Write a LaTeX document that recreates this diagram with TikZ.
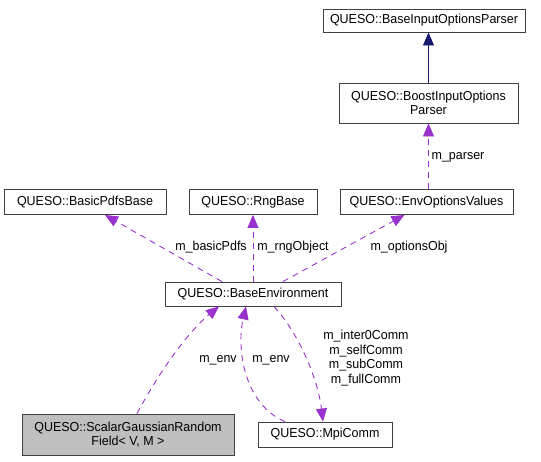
\documentclass[tikz,border=0pt]{standalone}
\usepackage{fontspec}
\setmainfont[FakeStretch=0.96]{Liberation Sans}
\usetikzlibrary{arrows.meta,calc}
\definecolor{edgepurple}{HTML}{9A32CD}
\definecolor{edgenavy}{HTML}{191970}
\definecolor{boxline}{HTML}{404040}
\definecolor{boxgray}{HTML}{BFBFBF}
\begin{document}
\begin{tikzpicture}[x=1pt,y=-1pt,
  font=\fontsize{13}{14.7}\selectfont,
  cls/.style={draw=boxline, line width=0.9pt, fill=white, inner sep=0pt, align=center},
  graycls/.style={cls, fill=boxgray},
  usage/.style={draw=edgepurple, line width=0.9pt, dash pattern=on 6pt off 5pt,
     -{Triangle[length=13pt,width=11pt,fill=edgepurple]}},
  inherit/.style={draw=edgenavy, line width=0.9pt,
     -{Triangle[length=13pt,width=11pt,fill=edgenavy]}},
  lbl/.style={inner sep=0pt, align=center}]
\useasboundingbox (0,0) rectangle (541,461);

\node[cls, minimum width=202pt, minimum height=23pt] (bip) at (424,20.5) {QUESO::BaseInputOptionsParser};
\node[cls, minimum width=179pt, minimum height=40pt] (boost) at (428.5,103) {QUESO::BoostInputOptions\\Parser};
\node[cls, minimum width=173pt, minimum height=25pt] (eov) at (426.5,202) {QUESO::EnvOptionsValues};
\node[cls, minimum width=162pt, minimum height=25pt] (bp) at (85,202) {QUESO::BasicPdfsBase};
\node[cls, minimum width=128pt, minimum height=25pt] (rng) at (253,202) {QUESO::RngBase};
\node[cls, minimum width=176pt, minimum height=24pt] (be) at (253,294) {QUESO::BaseEnvironment};
\node[graycls, minimum width=212pt, minimum height=41pt] (sg) at (128,434.5) {QUESO::ScalarGaussianRandom\\Field\textless{} V, M \textgreater{}};
\node[cls, minimum width=134pt, minimum height=25pt] (mpi) at (325,434.5) {QUESO::MpiComm};

\draw[inherit] (boost.north) -- (boost.north |- bip.south);
\draw[usage] (eov.north -| boost.south) -- (boost.south);
\draw[usage] ([xshift=-31pt]be.north) -- ([xshift=20pt]bp.south);
\draw[usage] (be.north) -- (rng.south);
\draw[usage] ([xshift=30pt]be.north) -- ([xshift=-22pt]eov.south);
\draw[usage] ([xshift=9pt]sg.north) .. controls (160,370) and (190,330) .. ([xshift=-34pt]be.south);
\draw[usage] ([xshift=-40pt]mpi.north) .. controls (245,405) and (236,350) .. ([xshift=-7pt]be.south);
\draw[usage] ([xshift=21pt]be.south) .. controls (300,335) and (318,380) .. ([xshift=-2pt]mpi.north);

\node[lbl] (lp) at (458,157) {m\_parser};
\node[lbl] (lb) at (211,247) {m\_basicPdfs};
\node[lbl] (lr) at (293,247) {m\_rngObject};
\node[lbl] (lo) at (409,247) {m\_optionsObj};
\node[lbl] (le1) at (218,360) {m\_env};
\node[lbl] (le2) at (271,360) {m\_env};
\node[lbl] (lc) at (366,358) {m\_inter0Comm\\m\_selfComm\\m\_subComm\\m\_fullComm};
\end{tikzpicture}
\end{document}
